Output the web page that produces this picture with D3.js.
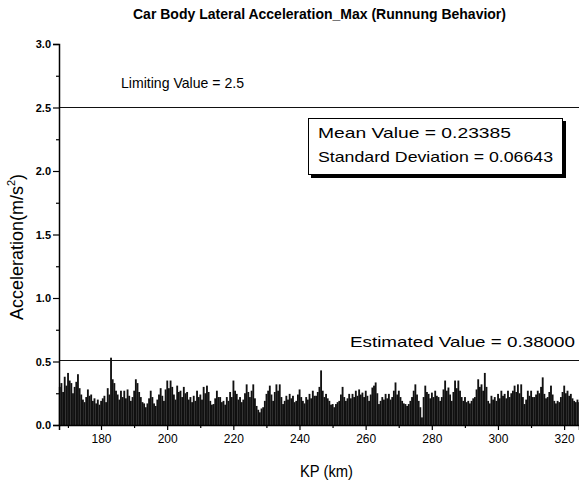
<!DOCTYPE html>
<html>
<head>
<meta charset="utf-8">
<script src="https://cdn.jsdelivr.net/npm/d3@7"></script>
<style>
  body { margin: 0; background: #fff; }
  svg { display: block; font-family: "Liberation Sans", Arial, sans-serif; }
</style>
</head>
<body>
<svg id="chart" width="579" height="486"></svg>
<script>
// KP positions start at 167.5 km and go every 0.5 km
var kpStart = 167.5;
var kpStep = 0.5;

// max lateral acceleration per 0.5 km
var accelValues = [
  0.30,
  0.33, 0.26, 0.38, 0.31, 0.41, 0.35, 0.33, 0.25, 0.30, 0.34, 0.40, 0.29, 0.24, 0.20, 0.18, 0.22, 0.28, 0.23, 0.24, 0.19,   // 168-177
  0.21, 0.17, 0.20, 0.16, 0.19, 0.21, 0.23, 0.18, 0.29, 0.24, 0.53, 0.36, 0.33, 0.27, 0.24, 0.20, 0.27, 0.22, 0.27, 0.21,   // 178-187
  0.28, 0.23, 0.19, 0.22, 0.27, 0.36, 0.33, 0.26, 0.22, 0.18, 0.17, 0.14, 0.17, 0.21, 0.27, 0.22, 0.17, 0.15, 0.20, 0.24,   // 188-197
  0.29, 0.23, 0.19, 0.28, 0.35, 0.29, 0.35, 0.30, 0.24, 0.20, 0.31, 0.26, 0.27, 0.22, 0.30, 0.25, 0.26, 0.20, 0.22, 0.18,   // 198-207
  0.23, 0.19, 0.27, 0.22, 0.24, 0.20, 0.30, 0.25, 0.31, 0.26, 0.19, 0.16, 0.165, 0.21, 0.27, 0.22, 0.22, 0.18, 0.19, 0.16,  // 208-217
  0.22, 0.19, 0.26, 0.22, 0.35, 0.27, 0.245, 0.20, 0.22, 0.18, 0.20, 0.25, 0.32, 0.26, 0.22, 0.27, 0.32, 0.21, 0.15, 0.12,  // 218-227
  0.10, 0.13, 0.14, 0.19, 0.245, 0.27, 0.31, 0.24, 0.19, 0.26, 0.32, 0.27, 0.32, 0.22, 0.165, 0.19, 0.23, 0.20, 0.245, 0.21, // 228-237
  0.23, 0.18, 0.19, 0.24, 0.28, 0.22, 0.19, 0.17, 0.22, 0.20, 0.245, 0.21, 0.27, 0.23, 0.23, 0.26, 0.30, 0.43, 0.27, 0.22,  // 238-247
  0.245, 0.21, 0.19, 0.16, 0.165, 0.14, 0.165, 0.18, 0.19, 0.24, 0.30, 0.22, 0.19, 0.21, 0.245, 0.21, 0.245, 0.22, 0.27, 0.23, // 248-257
  0.28, 0.24, 0.255, 0.22, 0.27, 0.23, 0.19, 0.24, 0.295, 0.31, 0.335, 0.25, 0.165, 0.19, 0.22, 0.20, 0.245, 0.21, 0.245, 0.20, // 258-267
  0.22, 0.27, 0.335, 0.24, 0.27, 0.22, 0.19, 0.17, 0.165, 0.15, 0.165, 0.19, 0.22, 0.27, 0.32, 0.24, 0.19, 0.14, 0.06, 0.22, // 268-277
  0.31, 0.26, 0.245, 0.21, 0.255, 0.22, 0.27, 0.23, 0.22, 0.19, 0.22, 0.28, 0.35, 0.27, 0.295, 0.24, 0.19, 0.26, 0.35, 0.29, // 278-287
  0.35, 0.27, 0.22, 0.19, 0.22, 0.18, 0.19, 0.17, 0.19, 0.21, 0.22, 0.28, 0.36, 0.30, 0.32, 0.27, 0.41, 0.30, 0.19, 0.17,   // 288-297
  0.23, 0.20, 0.22, 0.19, 0.245, 0.21, 0.27, 0.23, 0.245, 0.21, 0.27, 0.22, 0.25, 0.27, 0.31, 0.26, 0.32, 0.25, 0.32, 0.22,  // 298-307
  0.165, 0.20, 0.27, 0.23, 0.27, 0.22, 0.22, 0.24, 0.27, 0.25, 0.30, 0.375, 0.245, 0.21, 0.22, 0.26, 0.31, 0.24, 0.19, 0.17, // 308-317
  0.19, 0.18, 0.22, 0.26, 0.31, 0.25, 0.27, 0.23, 0.245, 0.21, 0.19, 0.18, 0.20, 0.18                                        // 318-324.5
];

var xTicks = [180, 200, 220, 240, 260, 280, 300, 320];
var xMinorTicks = [170, 190, 210, 230, 250, 270, 290, 310];
var yTicks = [0, 0.5, 1.0, 1.5, 2.0, 2.5, 3.0];
var yMinorTicks = [0.25, 0.75, 1.25, 1.75, 2.25, 2.75];

var limitingValue = 2.5;
var estimatedLineValue = 0.51;   // where the estimated-value line sits in the picture
var statsLines = ["Mean Value = 0.23385", "Standard Deviation = 0.06643"];

var svg = d3.select("#chart");
var plotLeft = 59, plotRight = 579, plotTop = 44, plotBottom = 425;

var x = d3.scaleLinear().domain([167.3, 324.5]).range([plotLeft, plotRight]);
var y = d3.scaleLinear().domain([0, 3]).range([plotBottom, plotTop]);

var data = accelValues.map(function(v, i){ return {kp: kpStart + i*kpStep, v: v}; });

// bars
svg.append("g")
  .selectAll("rect")
  .data(data)
  .enter().append("rect")
  .attr("x", function(d){ return x(d.kp - kpStep/2); })
  .attr("width", function(d){ return x(d.kp + kpStep/2) - x(d.kp - kpStep/2) + 0.2; })
  .attr("y", function(d){ return y(d.v); })
  .attr("height", function(d){ return y(0) - y(d.v); })
  .attr("fill", "#111");

// reference lines
[limitingValue, estimatedLineValue].forEach(function(v){
  svg.append("line")
    .attr("x1", plotLeft).attr("x2", plotRight)
    .attr("y1", Math.round(y(v)) + 0.5).attr("y2", Math.round(y(v)) + 0.5)
    .attr("stroke", "#111").attr("stroke-width", 1);
});

// axes
var xAxis = svg.append("g")
  .attr("transform", "translate(0," + plotBottom + ")")
  .call(d3.axisBottom(x).tickValues(xTicks).tickSize(5).tickPadding(4).tickFormat(d3.format("d")));
svg.append("g")
  .attr("transform", "translate(0," + plotBottom + ")")
  .call(d3.axisBottom(x).tickValues(xMinorTicks).tickSize(3).tickFormat(""))
  .select(".domain").remove();

var yAxis = svg.append("g")
  .attr("transform", "translate(" + plotLeft + ",0)")
  .call(d3.axisLeft(y).tickValues(yTicks).tickSize(6).tickPadding(2).tickFormat(d3.format(".1f")));
svg.append("g")
  .attr("transform", "translate(" + plotLeft + ",0)")
  .call(d3.axisLeft(y).tickValues(yMinorTicks).tickSize(3).tickFormat(""))
  .select(".domain").remove();

svg.selectAll(".domain").attr("stroke", "#000").attr("stroke-width", 1.5);
svg.selectAll(".tick line").attr("stroke", "#000").attr("stroke-width", 1.2);
xAxis.selectAll("text").attr("font-size", 12).attr("fill", "#000").attr("font-family", "Liberation Sans, Arial");
yAxis.selectAll("text").attr("font-size", 11).attr("font-weight", "bold").attr("fill", "#000").attr("font-family", "Liberation Sans, Arial");

// title and axis titles
svg.append("text")
  .attr("x", 133).attr("y", 19)
  .attr("font-size", 14).attr("font-weight", "bold")
  .attr("textLength", 373).attr("lengthAdjust", "spacingAndGlyphs")
  .text("Car Body Lateral Acceleration_Max (Runnung Behavior)");

svg.append("text")
  .attr("x", 300).attr("y", 477)
  .attr("font-size", 17)
  .attr("textLength", 53).attr("lengthAdjust", "spacingAndGlyphs")
  .text("KP (km)");

var yTitle = svg.append("text")
  .attr("transform", "translate(23,247) rotate(-90)")
  .attr("text-anchor", "middle")
  .attr("font-size", 18);
yTitle.append("tspan").text("Acceleration(m/s");
yTitle.append("tspan").attr("font-size", 11).attr("dy", -8).text("2");
yTitle.append("tspan").attr("dy", 8).text(")");

// annotations
svg.append("text")
  .attr("x", 121).attr("y", 88)
  .attr("font-size", 15)
  .attr("textLength", 123).attr("lengthAdjust", "spacingAndGlyphs")
  .text("Limiting Value = " + limitingValue);

svg.append("text")
  .attr("x", 350).attr("y", 347)
  .attr("font-size", 15)
  .attr("textLength", 225).attr("lengthAdjust", "spacingAndGlyphs")
  .text("Estimated Value = 0.38000");

// stats box with shadow
svg.append("rect").attr("x", 311).attr("y", 121).attr("width", 255).attr("height", 57).attr("fill", "#000");
svg.append("rect").attr("x", 308.5).attr("y", 118.5).attr("width", 254).attr("height", 56)
  .attr("fill", "#fff").attr("stroke", "#000").attr("stroke-width", 1);
var statWidths = [193, 235];
statsLines.forEach(function(t, i){
  svg.append("text")
    .attr("x", 318).attr("y", 138 + i*24)
    .attr("font-size", 15)
    .attr("textLength", statWidths[i]).attr("lengthAdjust", "spacingAndGlyphs")
    .text(t);
});
</script>
</body>
</html>
